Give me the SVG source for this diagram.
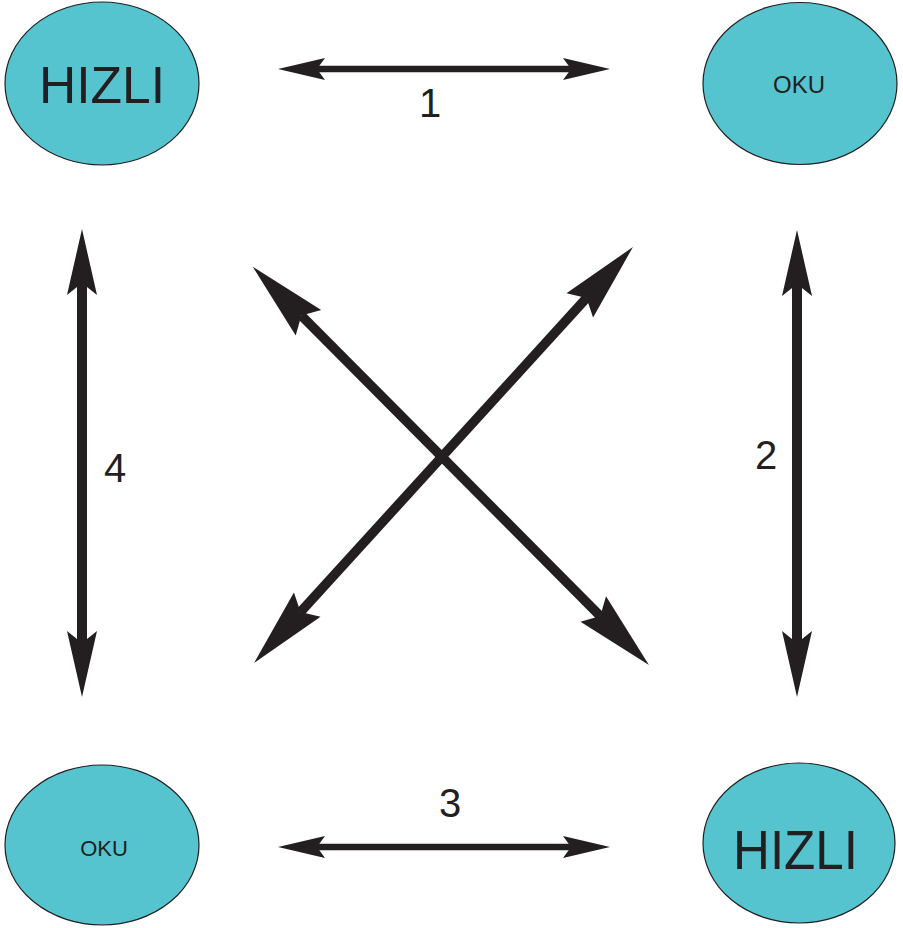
<svg xmlns="http://www.w3.org/2000/svg" width="903" height="928" viewBox="0 0 903 928">
  <style>
    .node { fill: #55c4cf; stroke: #231f20; stroke-width: 1.2; }
    .label { font-family: "Liberation Sans", Arial, sans-serif; fill: #231f20; text-anchor: middle; }
    .num { font-family: "Liberation Sans", Arial, sans-serif; fill: #231f20; text-anchor: middle; font-size: 40px; }
    .shaft { stroke: #231f20; fill: none; stroke-linecap: butt; }
    .h { stroke-width: 6.5; marker-start: url(#headH); marker-end: url(#headH); }
    .v { stroke-width: 10; marker-start: url(#headV); marker-end: url(#headV); }
    .d { stroke-width: 9.5; marker-start: url(#headD); marker-end: url(#headD); }
  </style>
  <defs>
    <!-- notched arrowheads; reference point sits at the notch where the shaft ends -->
    <marker id="headH" markerUnits="userSpaceOnUse" viewBox="-1 -12 50 24" markerWidth="50" markerHeight="24" refX="8" refY="0" orient="auto-start-reverse" overflow="visible">
      <path d="M47,0 L0,-11 L8,0 L0,11 Z" fill="#231f20"/>
    </marker>
    <marker id="headV" markerUnits="userSpaceOnUse" viewBox="-1 -16 69 32" markerWidth="69" markerHeight="32" refX="12" refY="0" orient="auto-start-reverse" overflow="visible">
      <path d="M66,0 L0,-15 L12,0 L0,15 Z" fill="#231f20"/>
    </marker>
    <marker id="headD" markerUnits="userSpaceOnUse" viewBox="-1 -19 82 38" markerWidth="82" markerHeight="38" refX="10" refY="0" orient="auto-start-reverse" overflow="visible">
      <path d="M79,0 L0,-18 L10,0 L0,18 Z" fill="#231f20"/>
    </marker>
  </defs>

  <g id="connectors">
    <line class="shaft h" x1="317" y1="69" x2="571" y2="69"/>
    <line class="shaft h" x1="317" y1="847" x2="571" y2="847"/>
    <line class="shaft v" x1="82" y1="283" x2="82" y2="643"/>
    <line class="shaft v" x1="797" y1="284" x2="797" y2="643"/>
    <line class="shaft d" x1="301.4" y1="315.6" x2="600.3" y2="616.1"/>
    <line class="shaft d" x1="300.5" y1="612" x2="586.5" y2="298"/>
    <text class="num" x="430" y="117">1</text>
    <text class="num" x="766" y="469">2</text>
    <text class="num" x="450" y="817">3</text>
    <text class="num" x="115" y="482">4</text>
  </g>

  <g id="node-hizli-top">
    <ellipse class="node" cx="102" cy="83.5" rx="97" ry="81.5"/>
    <text class="label" x="102" y="103" font-size="52" textLength="126" lengthAdjust="spacingAndGlyphs">HIZLI</text>
  </g>
  <g id="node-oku-top">
    <ellipse class="node" cx="800" cy="83.5" rx="97" ry="81"/>
    <text class="label" x="799" y="92.5" font-size="24">OKU</text>
  </g>
  <g id="node-oku-bottom">
    <ellipse class="node" cx="102" cy="845" rx="97" ry="80"/>
    <text class="label" x="104" y="856" font-size="22">OKU</text>
  </g>
  <g id="node-hizli-bottom">
    <ellipse class="node" cx="799" cy="843" rx="96" ry="80"/>
    <text class="label" x="795.5" y="869" font-size="56" textLength="125" lengthAdjust="spacingAndGlyphs">HIZLI</text>
  </g>
</svg>
